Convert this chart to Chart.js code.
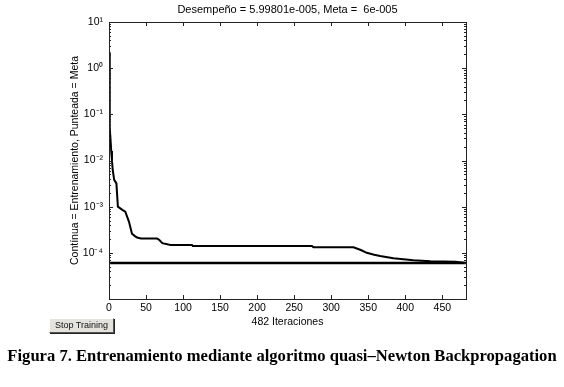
<!DOCTYPE html>
<html>
<head>
<meta charset="utf-8">
<script src="https://cdn.jsdelivr.net/npm/chart.js@4/dist/chart.umd.min.js"></script>
<style>
  body { margin: 0; background: #fff; }
  #wrap { position: relative; width: 564px; height: 387px; background: #fff; }
  #myChart { position: absolute; left: 0; top: 0; }
  #stop {
    position: absolute; left: 49px; top: 318px; width: 63px; height: 13px;
    background: #e4e2dc; border: 1px solid; border-color: #fff #555 #555 #fff;
    box-shadow: 1px 1px 0 #222;
    font: 9px "Liberation Sans", Arial, sans-serif; color: #111;
    text-align: center; line-height: 13px;
  }
  #caption {
    position: absolute; left: 0; width: 564px; top: 346px; text-align: center;
    font: bold 16.6px "Liberation Serif", "Times New Roman", serif; color: #000;
  }
</style>
</head>
<body>
<div id="wrap">
  <canvas id="myChart" width="564" height="387"></canvas>
  <div id="stop">Stop Training</div>
  <div id="caption">Figura 7. Entrenamiento mediante algoritmo quasi–Newton Backpropagation</div>
</div>
<script>
// valores (iteracion, desempeño)
var iteraciones = [0, 1, 2, 3, 4, 5, 7, 10, 12, 18, 22, 27, 31, 35, 38, 43, 65, 68, 72, 83, 112, 113, 274, 276, 330, 340, 348, 358, 366, 384, 411, 434, 468, 482];
var desempeno = [2.2, 0.05, 0.03, 0.016, 0.01, 0.0063, 0.0038, 0.0032, 0.001, 0.00085, 0.00078, 0.00047, 0.00026, 0.00023, 0.000214, 0.000204, 0.000204, 0.00019, 0.000162, 0.000148, 0.000148, 0.000141, 0.000141, 0.000132, 0.000132, 0.000115, 0.0001, 0.000091, 0.000085, 0.000076, 0.000069, 0.000066, 0.0000645, 0.00005998];
var meta = 6e-5;
var xMax = 482;
var xTicks = [0, 50, 100, 150, 200, 250, 300, 350, 400, 450];
var yTicks = [1e-5, 1e-4, 1e-3, 1e-2, 1e-1, 1e0, 1e1];
var yLabels = ['', '10⁻⁴', '10⁻³', '10⁻²', '10⁻¹', '10⁰', '10¹'];

var fuente = '"Liberation Sans", Arial, sans-serif';

var curva = iteraciones.map(function (it, i) { return { x: it, y: desempeno[i] }; });
var lineaMeta = [{ x: 0, y: meta }, { x: xMax, y: meta }];

// marco y marcas hacia adentro, al estilo matlab
var marco = {
  id: 'marco',
  afterDatasetsDraw: function (chart) {
    var ctx = chart.ctx, a = chart.chartArea;
    var xs = chart.scales.x, ys = chart.scales.y;
    ctx.save();
    ctx.strokeStyle = '#222';
    ctx.lineWidth = 1;
    ctx.beginPath();
    xTicks.forEach(function (v) {
      var px = Math.round(xs.getPixelForValue(v)) + 0.5;
      ctx.moveTo(px, a.bottom); ctx.lineTo(px, a.bottom - 4);
      ctx.moveTo(px, a.top); ctx.lineTo(px, a.top + 4);
    });
    for (var d = -5; d <= 1; d++) {
      for (var m = 1; m <= 9; m++) {
        var v = m * Math.pow(10, d);
        if (v > 10.0001) break;
        var py = Math.round(ys.getPixelForValue(v)) + 0.5;
        var len = m === 1 ? 4 : 2;
        ctx.moveTo(a.left, py); ctx.lineTo(a.left + len, py);
        ctx.moveTo(a.right, py); ctx.lineTo(a.right - len, py);
      }
    }
    ctx.stroke();
    ctx.strokeRect(Math.round(a.left) + 0.5, Math.round(a.top) + 0.5, Math.round(a.right - a.left), Math.round(a.bottom - a.top));
    ctx.restore();
  }
};

var ctx = document.getElementById('myChart').getContext('2d');
var myChart = new Chart(ctx, {
  type: 'line',
  data: {
    datasets: [
      { label: 'Entrenamiento', data: curva, borderColor: '#000', borderWidth: 2, pointRadius: 0, tension: 0 },
      { label: 'Meta', data: lineaMeta, borderColor: '#000', borderWidth: 2.5, pointRadius: 0, tension: 0 }
    ]
  },
  options: {
    responsive: false,
    animation: false,
    layout: { padding: { left: 0, right: 98, top: 0, bottom: 0 } },
    plugins: {
      legend: { display: false },
      tooltip: { enabled: false },
      title: {
        display: true,
        fullSize: false,
        text: 'Desempeño = 5.99801e-005, Meta =  6e-005',
        color: '#000',
        font: { family: fuente, size: 11, weight: 'normal' },
        padding: { top: 3.4, bottom: 5.4 }
      }
    },
    scales: {
      x: {
        type: 'linear',
        min: 0,
        max: xMax,
        afterBuildTicks: function (s) { s.ticks = xTicks.map(function (v) { return { value: v }; }); },
        afterFit: function (s) { s.height = 88; },
        grid: { display: false, drawTicks: false },
        border: { display: false },
        ticks: { color: '#000', padding: 3, maxRotation: 0, font: { family: fuente, size: 10.5 } },
        title: {
          display: true, text: '482 Iteraciones', color: '#000',
          font: { family: fuente, size: 10.5 },
          padding: { top: 0, bottom: 58.7 }
        }
      },
      y: {
        type: 'logarithmic',
        min: 1e-5,
        max: 10,
        afterBuildTicks: function (s) { s.ticks = yTicks.map(function (v) { return { value: v }; }); },
        afterFit: function (s) { s.width = 109; },
        grid: { display: false, drawTicks: false },
        border: { display: false },
        ticks: {
          color: '#000', padding: 6, font: { family: fuente, size: 10.5 },
          callback: function (v) { return yLabels[yTicks.indexOf(v)]; }
        },
        title: {
          display: true, text: 'Contínua = Entrenamiento, Punteada = Meta', color: '#000',
          font: { family: fuente, size: 10.5 },
          padding: { top: 68.7, bottom: 0 }
        }
      }
    }
  },
  plugins: [marco]
});
</script>
</body>
</html>
